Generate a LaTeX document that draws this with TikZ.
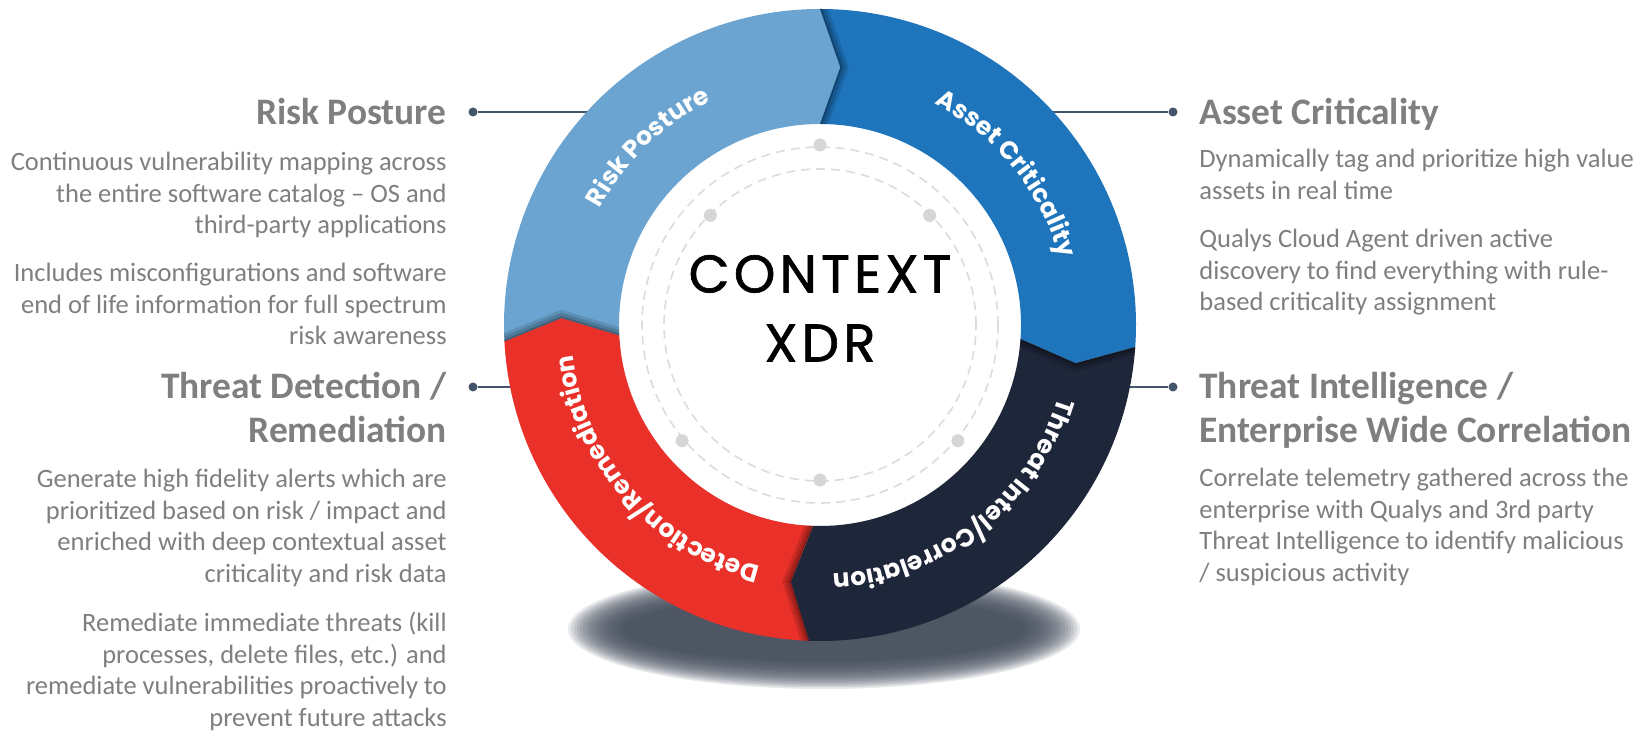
\documentclass[tikz,border=0pt]{standalone}
\usepackage{fontspec}
\setmainfont{Carlito}
\newfontfamily\ringfont{Poppins}
\newfontfamily\ctxfont{Poppins}[FakeBold=1.2, LetterSpace=8]
\usetikzlibrary{decorations.text}

\definecolor{rpblue}{HTML}{6BA4D0}
\definecolor{acblue}{HTML}{1E75BC}
\definecolor{tinavy}{HTML}{1E263A}
\definecolor{drred}{HTML}{E93029}
\definecolor{txtgray}{HTML}{7F7F7F}
\definecolor{linenavy}{HTML}{44546A}
\definecolor{dashgray}{HTML}{DCDCDC}
\definecolor{dotgray}{HTML}{D6D6D6}
\definecolor{shadowgray}{HTML}{434C5C}

\newcommand{\headfont}{\fontsize{18.7}{22}\selectfont\bfseries}
\newcommand{\bodyfont}{\fontsize{13.25}{15.75}\selectfont}
\newcommand{\ringlabel}{\ringfont\bfseries\fontsize{12.5}{14}\selectfont}

\newcommand{\Rout}{316}
\newcommand{\Rin}{201}
\newcommand{\Rmid}{258.5}
\newcommand{\tipang}{4.5}
\newcommand{\segpath}[2]{(#1:\Rout) arc[start angle=#1, end angle=#2, radius=\Rout] -- ({#2-\tipang}:\Rmid) -- (#2:\Rin) arc[start angle=#2, end angle=#1, radius=\Rin] -- ({#1-\tipang}:\Rmid) -- cycle}
\newcommand{\ringtext}[3]{%
	\pgfmathsetmacro{\ringa}{#1+#2}\pgfmathsetmacro{\ringb}{#1-#2}%
	\path[decorate, decoration={text along path, text align=center, text color=white, text={|\ringlabel|#3}}]
		(\ringa:249) arc[start angle=\ringa, end angle=\ringb, radius=249];}

\tikzset{
	headl/.style={anchor=base east, align=right, font=\headfont, text=txtgray, inner sep=0pt},
	headr/.style={anchor=base west, align=left, font=\headfont, text=txtgray, inner sep=0pt},
	bodyl/.style={headl, font=\bodyfont},
	bodyr/.style={headr, font=\bodyfont},
	pindot/.style={circle, fill=linenavy, inner sep=0pt, minimum size=4.5pt},
	conn/.style={draw=linenavy, line width=1pt},
	ringdot/.style={circle, fill=dotgray, inner sep=0pt, minimum size=6.5pt},
	dashring/.style={draw=dashgray, line width=0.8pt, dash pattern=on 4.5pt off 3pt},
	ctrtext/.style={anchor=base, font=\ctxfont\fontsize{26.5}{30}\selectfont, text=black, inner sep=0pt},
	notchshade/.style={draw=black, line join=miter},
}

\begin{document}
\begin{tikzpicture}[x=0.5pt, y=0.5pt]
	\path[use as bounding box, fill=white] (0,0) rectangle (1639,731);

	% shadow under the ring
	\foreach \k [evaluate=\k as \rx using 256-3*\k, evaluate=\k as \ry using 60-1.5*\k] in {0,...,19}
		\fill[shadowgray, opacity=0.12] (824,102) ellipse[x radius=\rx, y radius=\ry];

	\begin{scope}
		\node[pindot] (rpdot) at (473,619) {};
		\node[pindot] (acdot) at (1173,619) {};
		\node[pindot] (tddot) at (473,344) {};
		\node[pindot] (tidot) at (1173,344) {};

		\coordinate (rpend) at (600,619);
		\coordinate (acend) at (1040,619);
		\coordinate (tdend) at (525,344);
		\coordinate (tiend) at (1115,344);

		\path[conn] (rpdot) edge (rpend);
		\path[conn] (acdot) edge (acend);
		\path[conn] (tddot) edge (tdend);
		\path[conn] (tidot) edge (tiend);
	\end{scope}

	\begin{scope}[shift={(820,406)}]
		\fill[rpblue] \segpath{183}{90};
		\fill[acblue] \segpath{90}{-4};
		\fill[tinavy] \segpath{-4}{-92};
		\fill[drred] \segpath{268}{183};

		\foreach \a/\b in {183/90, 90/-4, -4/-92, 268/183} {
			\begin{scope}
				\clip \segpath{\a}{\b};
				\draw[notchshade, line width=8pt, opacity=0.12] (\a:\Rout) -- ({\a-\tipang}:\Rmid) -- (\a:\Rin);
				\draw[notchshade, line width=5pt, opacity=0.15] (\a:\Rout) -- ({\a-\tipang}:\Rmid) -- (\a:\Rin);
				\draw[notchshade, line width=2pt, opacity=0.2] (\a:\Rout) -- ({\a-\tipang}:\Rmid) -- (\a:\Rin);
			\end{scope}
		}

		\draw[dashring] (0,0) circle[radius=178];
		\draw[dashring] (0,0) circle[radius=156];

		\node[ringdot] (dtop) at (90:180) {};
		\node[ringdot] (dul) at (135:155) {};
		\node[ringdot] (dur) at (45:155) {};
		\node[ringdot] (dll) at (220:180) {};
		\node[ringdot] (dlr) at (-40:180) {};
		\node[ringdot] (dbot) at (-90:155) {};

		\node[ctrtext] (ctx) at (0,32.5) {CONTEXT};
		\node[ctrtext] (xdr) at (0,-36.5) {XDR};

		\ringtext{134}{40}{Risk Posture}
		\ringtext{39}{42}{Asset Criticality}
		\ringtext{-52}{43}{Threat Intel/Correlation}
		\ringtext{-138.5}{43}{Detection/Remediation}
	\end{scope}

	\begin{scope}
		\node[headl] (rphead) at (447,606) {Risk Posture};
		\node[bodyl] (rptxt1) at (447,497) {Continuous vulnerability mapping across\\the entire software catalog – OS and\\third-party applications};
		\node[bodyl] (rptxt2) at (447,386) {Includes misconfigurations and software\\end of life information for full spectrum\\risk awareness};

		\node[headl] (tdhead) at (447,288) {Threat Detection /\\Remediation};
		\node[bodyl] (tdtxt1) at (447,148.5) {Generate high fidelity alerts which are\\prioritized based on risk / impact and\\enriched with deep contextual asset\\criticality and risk data};
		\node[bodyl] (tdtxt2) at (447,4.5) {Remediate immediate threats (kill\\processes, delete files, etc.) and\\remediate vulnerabilities proactively to\\prevent future attacks};

		\node[headr] (achead) at (1199,606) {Asset Criticality};
		\node[bodyr] (actxt1) at (1199,531.5) {Dynamically tag and prioritize high value\\assets in real time};
		\node[bodyr] (actxt2) at (1199,420) {Qualys Cloud Agent driven active\\discovery to find everything with rule-\\based criticality assignment};

		\node[headr] (tihead) at (1199,288) {Threat Intelligence /\\Enterprise Wide Correlation};
		\node[bodyr] (titxt1) at (1199,149.5) {Correlate telemetry gathered across the\\enterprise with Qualys and 3rd party\\Threat Intelligence to identify malicious\\/ suspicious activity};
	\end{scope}
\end{tikzpicture}
\end{document}
